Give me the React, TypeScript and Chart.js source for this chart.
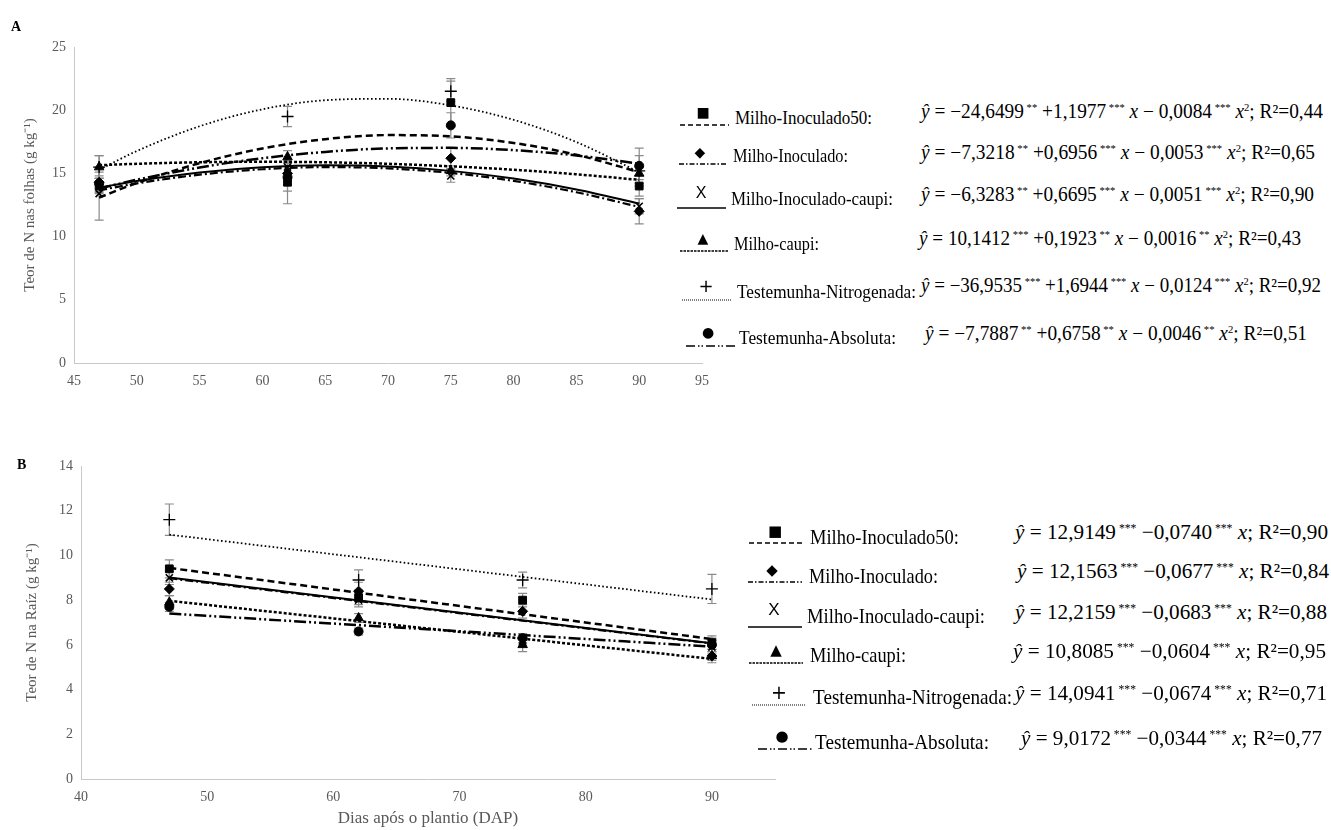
import React, { useEffect, useLayoutEffect, useRef } from 'react';
import { Chart, registerables } from 'chart.js';

Chart.register(...registerables);

// ---------------- data ----------------
const seriesNames = [
  'Milho-Inoculado50:',
  'Milho-Inoculado:',
  'Milho-Inoculado-caupi:',
  'Milho-caupi:',
  'Testemunha-Nitrogenada:',
  'Testemunha-Absoluta:',
];

const sampleDays = [47, 62, 75, 90];

// Panel A – N in leaves (means and error)
const leafM50 = [14.0, 14.3, 20.6, 14.0];
const leafMI = [14.3, 15.0, 16.2, 12.0];
const leafMIC = [13.4, 15.5, 14.8, 12.4];
const leafMC = [15.5, 16.3, 15.2, 15.0];
const leafTN = [15.5, 19.5, 21.5, 15.2];
const leafTA = [14.2, 14.7, 18.8, 15.6];
const leafM50Err = [0.6, 1.7, 1.9, 0.8];
const leafMIErr = [0.8, 0.9, 0.8, 1.0];
const leafMICErr = [2.1, 0.5, 0.5, 0.6];
const leafMCErr = [0.9, 0.5, 0.4, 0.5];
const leafTNErr = [0.9, 0.8, 0.8, 1.2];
const leafTAErr = [0.6, 1.1, 1.0, 1.4];

// Panel A – fitted curves
const curveDaysA = [47, 50, 55, 60, 65, 70, 75, 80, 85, 90];
const leafFitM50 = [13.09, 14.24, 15.81, 16.97, 17.71, 18.03, 17.93, 17.41, 16.47, 15.1];
const leafFitMI = [13.66, 14.21, 14.9, 15.33, 15.5, 15.4, 15.04, 14.41, 13.51, 12.35];
const leafFitMIC = [13.87, 14.4, 15.07, 15.48, 15.64, 15.55, 15.2, 14.59, 13.73, 12.62];
const leafFitMC = [15.65, 15.76, 15.88, 15.92, 15.88, 15.76, 15.56, 15.29, 14.93, 14.49];
const leafFitTN = [15.29, 16.77, 18.73, 20.07, 20.79, 20.9, 20.38, 19.24, 17.48, 15.1];
const leafFitTA = [13.81, 14.5, 15.47, 16.2, 16.7, 16.98, 17.02, 16.84, 16.42, 15.77];

// Panel B – N in roots
const rootM50 = [9.4, 8.1, 8.0, 6.1];
const rootMI = [8.5, 8.4, 7.5, 5.5];
const rootMIC = [9.0, 8.0, 6.2, 5.9];
const rootMC = [7.9, 7.2, 6.0, 5.5];
const rootTN = [11.6, 8.9, 8.9, 8.5];
const rootTA = [7.7, 6.6, 6.3, 6.0];
const rootM50Err = [0.4, 0.3, 0.3, 0.3];
const rootMIErr = [0.3, 0.4, 0.3, 0.3];
const rootMICErr = [0.3, 0.3, 0.2, 0.3];
const rootMCErr = [0.3, 0.2, 0.3, 0.2];
const rootTNErr = [0.7, 0.45, 0.35, 0.65];
const rootTAErr = [0.2, 0.15, 0.2, 0.3];

const lineDaysB = [47, 90];
const rootFitM50 = [9.44, 6.26];
const rootFitMI = [8.98, 6.06];
const rootFitMIC = [9.01, 6.07];
const rootFitMC = [7.97, 5.37];
const rootFitTN = [10.93, 8.03];
const rootFitTA = [7.4, 5.92];

const xTicksA = [45, 50, 55, 60, 65, 70, 75, 80, 85, 90, 95];
const yTicksA = [0, 5, 10, 15, 20, 25];
const xTicksB = [40, 50, 60, 70, 80, 90];
const yTicksB = [0, 2, 4, 6, 8, 10, 12, 14];

// equations (panel A: quadratic)
const eqAConst = ['−24,6499', '−7,3218', '−6,3283', '10,1412', '−36,9535', '−7,7887'];
const eqASig0 = ['**', '**', '**', '***', '***', '**'];
const eqALin = ['+1,1977', '+0,6956', '+0,6695', '+0,1923', '+1,6944', '+0,6758'];
const eqASig1 = ['***', '***', '***', '**', '***', '**'];
const eqAQuad = ['0,0084', '0,0053', '0,0051', '0,0016', '0,0124', '0,0046'];
const eqASig2 = ['***', '***', '***', '**', '***', '**'];
const eqAR2 = ['0,44', '0,65', '0,90', '0,43', '0,92', '0,51'];

// equations (panel B: linear)
const eqBConst = ['12,9149', '12,1563', '12,2159', '10,8085', '14,0941', '9,0172'];
const eqBSig0 = ['***', '***', '***', '***', '***', '***'];
const eqBSlope = ['−0,0740', '−0,0677', '−0,0683', '−0,0604', '−0,0674', '−0,0344'];
const eqBSig1 = ['***', '***', '***', '***', '***', '***'];
const eqBR2 = ['0,90', '0,84', '0,88', '0,95', '0,71', '0,77'];

// ---------------- styles ----------------
const markerStyles = ['rect', 'rectRot', 'crossRot', 'triangle', 'cross', 'circle'];
const markerRadius = [5.5, 5, 5, 5.5, 6, 4.5];
const markerBorder = [1, 1, 1.6, 1, 1.3, 1];
const fitDash: number[][] = [[7, 4], [8, 3, 2, 3], [], [3, 2], [1.6, 2.4], [12, 3, 2, 3, 2, 3]];
const fitWidth = [2.5, 2.2, 2, 2.5, 1.8, 2.5];
const legendGlyph = ['■', '◆', 'X', '▲', '+', '●'];
const legendDash: number[][] = [[5, 3], [5, 2, 1.5, 2], [], [2.5, 1], [1, 1], [9, 3, 1.5, 2, 1.5, 3]];

// legend layout, panel A
const legAGlyphX = [703, 700, 701, 703, 706, 708];
const legAGlyphY = [112, 152, 193, 238, 286, 332];
const legALineX = [680, 679, 677, 680, 682, 686];
const legALineY = [125, 164, 208, 251, 300, 346];
const legATextX = [735, 733, 731, 734, 737, 739];
const legATextY = [118, 156, 199, 244, 292, 338];
const legATextW = [137, 115, 162, 85, 179, 157];
const legAEqX = [921, 921, 921, 919, 921, 925];
const legAEqY = [111, 152, 194, 238, 285, 333];
const legAEqW = [402, 394, 393, 382, 400, 382];

// legend layout, panel B
const legBGlyphX = [775, 772, 774, 776, 779, 782];
const legBGlyphY = [531, 570, 610, 650, 692, 736];
const legBLineX = [749, 748, 748, 749, 752, 758];
const legBLineY = [543, 582, 627, 663, 705, 749];
const legBTextX = [810, 809, 807, 810, 813, 815];
const legBTextY = [537, 576, 616, 655, 697, 742];
const legBTextW = [149, 129, 178, 96, 199, 174];
const legBEqX = [1015, 1017, 1015, 1013, 1015, 1021];
const legBEqY = [532, 571, 612, 651, 693, 738];
const legBEqW = [313, 312, 312, 313, 312, 301];

// ---------------- helpers ----------------
const errorBarPlugin = {
  id: 'errorBars',
  beforeDatasetsDraw(chart: any) {
    const { ctx } = chart;
    const xs = chart.scales.x;
    const ys = chart.scales.y;
    ctx.save();
    ctx.strokeStyle = '#8a8a8a';
    ctx.lineWidth = 1.2;
    chart.data.datasets.forEach((ds: any) => {
      if (!ds.errors) return;
      ds.data.forEach((p: any, i: number) => {
        const e = ds.errors[i];
        const px = xs.getPixelForValue(p.x);
        const top = ys.getPixelForValue(p.y + e);
        const bot = ys.getPixelForValue(p.y - e);
        ctx.beginPath();
        ctx.moveTo(px, top);
        ctx.lineTo(px, bot);
        ctx.moveTo(px - 4.5, top);
        ctx.lineTo(px + 4.5, top);
        ctx.moveTo(px - 4.5, bot);
        ctx.lineTo(px + 4.5, bot);
        ctx.stroke();
      });
    });
    ctx.restore();
  },
};

function buildDatasets(obs: number[][], errs: number[][], fitX: number[], fits: number[][]) {
  const ds: any[] = [];
  obs.forEach((vals, k) => {
    ds.push({
      label: seriesNames[k],
      data: sampleDays.map((d, i) => ({ x: d, y: vals[i] })),
      errors: errs[k],
      showLine: false,
      pointStyle: markerStyles[k],
      pointRadius: markerRadius[k],
      pointBorderWidth: markerBorder[k],
      backgroundColor: '#000',
      borderColor: '#000',
      order: 0,
    });
  });
  fits.forEach((vals, k) => {
    ds.push({
      label: seriesNames[k] + ' fit',
      data: fitX.map((d, i) => ({ x: d, y: vals[i] })),
      showLine: true,
      pointRadius: 0,
      borderColor: '#000',
      backgroundColor: '#000',
      borderWidth: fitWidth[k],
      borderDash: fitDash[k],
      cubicInterpolationMode: 'monotone',
      order: 1,
    });
  });
  return ds;
}

const tickFont = { family: 'Liberation Serif', size: 14 };
const gray = '#595959';

function makeConfig(opts: any) {
  return {
    type: 'scatter',
    data: { datasets: opts.datasets },
    options: {
      responsive: false,
      animation: false,
      layout: { padding: { top: opts.padTop, right: opts.padRight, left: 0, bottom: 0 } },
      plugins: { legend: { display: false }, tooltip: { enabled: false } },
      scales: {
        x: {
          type: 'linear',
          min: opts.xMin,
          max: opts.xMax,
          afterBuildTicks: (s: any) => {
            s.ticks = opts.xTicks.map((v: number) => ({ value: v }));
          },
          afterFit: (s: any) => {
            s.height = opts.xHeight;
          },
          grid: { display: false, drawTicks: false },
          border: { display: true, color: '#c8c8c8', width: 1 },
          ticks: { padding: opts.xPad, color: gray, font: tickFont, autoSkip: false, maxRotation: 0 },
          title: opts.xTitle
            ? {
                display: true,
                text: opts.xTitle,
                color: gray,
                font: { family: 'Liberation Serif', size: 17 },
                padding: { top: 0, bottom: 1 },
              }
            : { display: false },
        },
        y: {
          type: 'linear',
          min: opts.yMin,
          max: opts.yMax,
          afterBuildTicks: (s: any) => {
            s.ticks = opts.yTicks.map((v: number) => ({ value: v }));
          },
          afterFit: (s: any) => {
            s.width = opts.yWidth;
          },
          grid: { display: false, drawTicks: false },
          border: { display: true, color: '#c8c8c8', width: 1 },
          ticks: { padding: 8, color: gray, font: tickFont, autoSkip: false },
          title: {
            display: true,
            text: opts.yTitle,
            color: gray,
            font: { family: 'Liberation Serif', size: 15 },
            padding: { top: opts.yTitlePad, bottom: 0 },
          },
        },
      },
    },
    plugins: [errorBarPlugin],
  };
}

function ChartCanvas({ config, left, top, w, h }: any) {
  const ref = useRef<HTMLCanvasElement>(null);
  useEffect(() => {
    const chart = new Chart(ref.current as HTMLCanvasElement, config);
    return () => chart.destroy();
  }, []);
  return (
    <canvas
      ref={ref}
      width={w}
      height={h}
      style={{ position: 'absolute', left, top, width: w, height: h }}
    />
  );
}

function FitText({ left, cy, width, size, children, family }: any) {
  const ref = useRef<HTMLSpanElement>(null);
  useLayoutEffect(() => {
    const el = ref.current;
    if (!el) return;
    el.style.transform = 'none';
    const w = el.getBoundingClientRect().width;
    if (w > 0) el.style.transform = `scaleX(${width / w})`;
  }, []);
  const lh = Math.round(size * 1.25);
  return (
    <span
      ref={ref}
      style={{
        position: 'absolute',
        left,
        top: cy - lh / 2,
        fontSize: size,
        lineHeight: `${lh}px`,
        whiteSpace: 'nowrap',
        display: 'inline-block',
        transformOrigin: '0 50%',
        fontFamily: family || 'Liberation Serif',
        color: '#000',
      }}
    >
      {children}
    </span>
  );
}

const supStyle: React.CSSProperties = { fontSize: '0.55em', verticalAlign: '0.65em', lineHeight: 0 };

function LegendMarks({ gx, gy, lx, ly, lw, glyphSize }: any) {
  return (
    <>
      {legendGlyph.map((g, k) => (
        <span
          key={'g' + k}
          style={{
            position: 'absolute',
            left: gx[k] - 10,
            top: gy[k] - 10,
            width: 20,
            height: 20,
            lineHeight: '20px',
            textAlign: 'center',
            fontFamily: k === 2 ? 'Liberation Sans' : 'DejaVu Sans',
            fontSize: k === 2 ? glyphSize + 2 : k === 4 ? glyphSize + 4 : glyphSize,
            color: '#000',
          }}
        >
          {g}
        </span>
      ))}
      {legendDash.map((d, k) => (
        <svg
          key={'l' + k}
          width={lw}
          height={4}
          style={{ position: 'absolute', left: lx[k], top: ly[k] - 2 }}
        >
          <line
            x1={0}
            y1={2}
            x2={lw}
            y2={2}
            stroke="#000"
            strokeWidth={k === 4 ? 1 : 1.4}
            strokeDasharray={d.length ? d.join(' ') : undefined}
          />
        </svg>
      ))}
    </>
  );
}

export default function App() {
  const configA = makeConfig({
    datasets: buildDatasets(
      [leafM50, leafMI, leafMIC, leafMC, leafTN, leafTA],
      [leafM50Err, leafMIErr, leafMICErr, leafMCErr, leafTNErr, leafTAErr],
      curveDaysA,
      [leafFitM50, leafFitMI, leafFitMIC, leafFitMC, leafFitTN, leafFitTA]
    ),
    padTop: 47,
    padRight: 18,
    xMin: 45,
    xMax: 95,
    xTicks: xTicksA,
    xHeight: 37,
    xPad: 10,
    yMin: 0,
    yMax: 25,
    yTicks: yTicksA,
    yWidth: 74,
    yTitle: 'Teor de N nas folhas (g kg⁻¹)',
    yTitlePad: 21,
  });

  const configB = makeConfig({
    datasets: buildDatasets(
      [rootM50, rootMI, rootMIC, rootMC, rootTN, rootTA],
      [rootM50Err, rootMIErr, rootMICErr, rootMCErr, rootTNErr, rootTAErr],
      lineDaysB,
      [rootFitM50, rootFitMI, rootFitMIC, rootFitMC, rootFitTN, rootFitTA]
    ),
    padTop: 36,
    padRight: 25,
    xMin: 40,
    xMax: 95,
    xTicks: xTicksB,
    xHeight: 51,
    xPad: 10,
    xTitle: 'Dias após o plantio (DAP)',
    yMin: 0,
    yMax: 14,
    yTicks: yTicksB,
    yWidth: 81,
    yTitle: 'Teor de N na Raíz (g kg⁻¹)',
    yTitlePad: 23,
  });

  return (
    <div
      style={{
        position: 'absolute',
        left: 0,
        top: 0,
        width: 1331,
        height: 830,
        background: '#fff',
        overflow: 'hidden',
        fontFamily: 'Liberation Serif',
      }}
    >
      <ChartCanvas config={configA} left={0} top={0} w={720} h={400} />
      <ChartCanvas config={configB} left={0} top={430} w={800} h={400} />

      <span style={{ position: 'absolute', left: 11, top: 19, fontWeight: 'bold', fontSize: 14 }}>A</span>
      <span style={{ position: 'absolute', left: 17, top: 457, fontWeight: 'bold', fontSize: 14 }}>B</span>

      <LegendMarks gx={legAGlyphX} gy={legAGlyphY} lx={legALineX} ly={legALineY} lw={49} glyphSize={14} />
      {seriesNames.map((n, k) => (
        <FitText key={'ta' + k} left={legATextX[k]} cy={legATextY[k]} width={legATextW[k]} size={19}>
          {n}
        </FitText>
      ))}
      {eqAConst.map((c, k) => (
        <FitText key={'ea' + k} left={legAEqX[k]} cy={legAEqY[k]} width={legAEqW[k]} size={20}>
          <i>ŷ</i> = {c}
          <sup style={supStyle}> {eqASig0[k]}</sup> {eqALin[k]}
          <sup style={supStyle}> {eqASig1[k]}</sup> <i>x</i> − {eqAQuad[k]}
          <sup style={supStyle}> {eqASig2[k]}</sup> <i>x</i>
          <sup style={supStyle}>2</sup>; R²={eqAR2[k]}
        </FitText>
      ))}

      <LegendMarks gx={legBGlyphX} gy={legBGlyphY} lx={legBLineX} ly={legBLineY} lw={54} glyphSize={15} />
      {seriesNames.map((n, k) => (
        <FitText key={'tb' + k} left={legBTextX[k]} cy={legBTextY[k]} width={legBTextW[k]} size={21}>
          {n}
        </FitText>
      ))}
      {eqBConst.map((c, k) => (
        <FitText key={'eb' + k} left={legBEqX[k]} cy={legBEqY[k]} width={legBEqW[k]} size={21}>
          <i>ŷ</i> = {c}
          <sup style={supStyle}> {eqBSig0[k]}</sup> {eqBSlope[k]}
          <sup style={supStyle}> {eqBSig1[k]}</sup> <i>x</i>; R²={eqBR2[k]}
        </FitText>
      ))}
    </div>
  );
}
